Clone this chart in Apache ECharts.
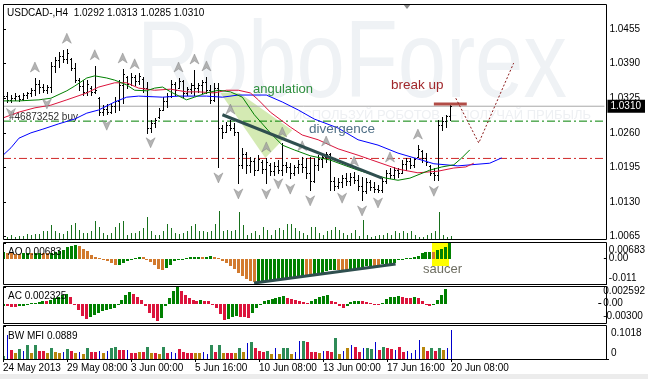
<!DOCTYPE html>
<html><head><meta charset="utf-8">
<script src="https://cdn.jsdelivr.net/npm/echarts@6/dist/echarts.min.js"></script>
<style>html,body{margin:0;padding:0;background:#fff;}#c{width:648px;height:379px;}</style>
</head><body><div id="c"></div>
<script>
// ---------- DATA ----------
const symbolTitle = 'USDCAD-,H4  1.0292 1.0313 1.0285 1.0310';
const timeTicks = [0, 16, 32, 48, 64, 80, 96, 112];
const timeLabels = ['24 May 2013', '29 May 08:00', '3 Jun 00:00', '5 Jun 16:00', '10 Jun 08:00', '13 Jun 00:00', '17 Jun 16:00', '20 Jun 08:00'];
const priceTicks = [1.0065, 1.0130, 1.0195, 1.0260, 1.0325, 1.0390, 1.0455];

const open = [1.0320,1.0330,1.0322,1.0326,1.0330,1.0324,1.0331,1.0334,1.0341,1.0352,1.0346,1.0341,1.0347,1.0385,1.0397,1.0405,1.0398,1.0398,1.0382,1.0360,1.0348,1.0336,1.0345,1.0336,1.0325,1.0300,1.0305,1.0300,1.0310,1.0320,1.0350,1.0365,1.0352,1.0365,1.0358,1.0362,1.0345,1.0270,1.0278,1.0290,1.0303,1.0320,1.0330,1.0352,1.0345,1.0358,1.0335,1.0342,1.0350,1.0345,1.0350,1.0355,1.0340,1.0322,1.0345,1.0270,1.0262,1.0275,1.0270,1.0262,1.0200,1.0220,1.0200,1.0208,1.0190,1.0205,1.0192,1.0200,1.0188,1.0198,1.0190,1.0200,1.0195,1.0185,1.0195,1.0202,1.0195,1.0185,1.0170,1.0200,1.0210,1.0215,1.0220,1.0170,1.0160,1.0168,1.0175,1.0170,1.0178,1.0172,1.0160,1.0150,1.0168,1.0158,1.0155,1.0152,1.0170,1.0185,1.0180,1.0190,1.0185,1.0202,1.0208,1.0200,1.0215,1.0225,1.0212,1.0198,1.0185,1.0180,1.0275,1.0282,1.0292];
const high = [1.0340,1.0337,1.0331,1.0335,1.0331,1.0335,1.0337,1.0344,1.0363,1.0359,1.0352,1.0350,1.0393,1.0402,1.0412,1.0416,1.0417,1.0400,1.0391,1.0363,1.0359,1.0359,1.0348,1.0386,1.0327,1.0312,1.0314,1.0316,1.0327,1.0359,1.0380,1.0367,1.0372,1.0369,1.0372,1.0365,1.0355,1.0284,1.0288,1.0306,1.0327,1.0335,1.0359,1.0355,1.0363,1.0359,1.0346,1.0354,1.0378,1.0354,1.0359,1.0365,1.0350,1.0354,1.0354,1.0275,1.0280,1.0284,1.0278,1.0262,1.0232,1.0224,1.0215,1.0213,1.0218,1.0209,1.0213,1.0203,1.0205,1.0209,1.0241,1.0205,1.0203,1.0200,1.0209,1.0215,1.0213,1.0215,1.0213,1.0218,1.0222,1.0224,1.0222,1.0177,1.0175,1.0181,1.0185,1.0185,1.0186,1.0181,1.0177,1.0175,1.0171,1.0168,1.0162,1.0175,1.0190,1.0194,1.0196,1.0194,1.0209,1.0213,1.0213,1.0213,1.0237,1.0228,1.0222,1.0200,1.0194,1.0284,1.0290,1.0294,1.0313];
const low = [1.0312,1.0318,1.0317,1.0322,1.0319,1.0322,1.0325,1.0329,1.0331,1.0335,1.0337,1.0335,1.0337,1.0374,1.0384,1.0393,1.0391,1.0378,1.0355,1.0340,1.0331,1.0331,1.0331,1.0335,1.0294,1.0294,1.0295,1.0297,1.0299,1.0303,1.0316,1.0344,1.0350,1.0350,1.0352,1.0337,1.0260,1.0262,1.0271,1.0288,1.0303,1.0309,1.0327,1.0331,1.0344,1.0327,1.0331,1.0335,1.0331,1.0337,1.0335,1.0335,1.0316,1.0320,1.0196,1.0250,1.0262,1.0265,1.0256,1.0166,1.0194,1.0185,1.0186,1.0181,1.0190,1.0185,1.0166,1.0181,1.0181,1.0185,1.0181,1.0186,1.0175,1.0181,1.0185,1.0186,1.0175,1.0153,1.0168,1.0190,1.0196,1.0205,1.0153,1.0153,1.0156,1.0158,1.0162,1.0162,1.0166,1.0153,1.0134,1.0148,1.0153,1.0149,1.0149,1.0149,1.0166,1.0175,1.0175,1.0177,1.0185,1.0190,1.0194,1.0196,1.0215,1.0205,1.0200,1.0181,1.0171,1.0171,1.0265,1.0271,1.0285];
const close = [1.0330,1.0322,1.0326,1.0330,1.0324,1.0331,1.0334,1.0341,1.0352,1.0346,1.0341,1.0347,1.0385,1.0397,1.0405,1.0398,1.0410,1.0382,1.0360,1.0348,1.0336,1.0352,1.0336,1.0340,1.0300,1.0305,1.0300,1.0310,1.0320,1.0350,1.0370,1.0352,1.0365,1.0358,1.0366,1.0345,1.0270,1.0278,1.0284,1.0302,1.0320,1.0330,1.0352,1.0340,1.0358,1.0335,1.0342,1.0350,1.0345,1.0350,1.0355,1.0340,1.0322,1.0345,1.0270,1.0262,1.0275,1.0270,1.0262,1.0200,1.0220,1.0200,1.0208,1.0190,1.0210,1.0192,1.0205,1.0188,1.0198,1.0190,1.0200,1.0195,1.0185,1.0195,1.0202,1.0195,1.0185,1.0170,1.0200,1.0210,1.0215,1.0220,1.0170,1.0160,1.0168,1.0175,1.0170,1.0178,1.0172,1.0160,1.0150,1.0168,1.0158,1.0155,1.0152,1.0170,1.0185,1.0180,1.0190,1.0185,1.0202,1.0208,1.0200,1.0210,1.0230,1.0212,1.0205,1.0185,1.0180,1.0275,1.0282,1.0292,1.0310];
const volume = [1100,200,400,200,300,300,500,400,500,500,800,800,1400,800,600,500,800,1400,1600,900,600,600,800,1800,1200,600,400,600,1200,1600,1800,400,600,600,800,1100,2200,800,400,400,800,1500,1100,600,500,600,800,1300,1500,800,800,700,800,1500,2800,800,900,800,900,2700,1400,400,600,800,400,1200,900,400,900,1100,900,1500,1500,1100,800,600,400,1200,1200,600,400,800,900,1200,900,600,400,600,900,300,1900,400,200,300,400,400,600,400,800,600,800,600,800,400,200,200,400,600,800,2700,400,200,300];

const fractalUp = [8, 16, 23, 30, 33, 44, 48, 51, 57, 66, 70, 75, 81, 88, 97, 104];
const fractalDown = [2, 11, 26, 37, 54, 59, 66, 69, 72, 77, 85, 90, 94, 108];

const jaw = [[0,1.0218],[2,1.0232],[4,1.0250],[7,1.0260],[10,1.0267],[14,1.0277],[18,1.0286],[21,1.0297],[24,1.0303],[28,1.0318],[31,1.0327],[34,1.0329],[40,1.0327],[44,1.0329],[51,1.0329],[55,1.0327],[59,1.0331],[66,1.0331],[70,1.0318],[74,1.0303],[78,1.0286],[84,1.0269],[89,1.0247],[94,1.0237],[99,1.0222],[104,1.0211],[108,1.0202],[114,1.0198],[122,1.0203],[125,1.0213]];
const teeth = [[0,1.0288],[4,1.0299],[8,1.0307],[12,1.0312],[16,1.0322],[21,1.0335],[24,1.0346],[28,1.0354],[31,1.0354],[34,1.0344],[38,1.0340],[42,1.0342],[46,1.0337],[49,1.0337],[53,1.0335],[56,1.0340],[59,1.0340],[62,1.0335],[64,1.0322],[67,1.0299],[72,1.0271],[75,1.0256],[79,1.0247],[84,1.0230],[89,1.0218],[94,1.0205],[99,1.0192],[104,1.0185],[109,1.0188],[113,1.0194],[116,1.0196],[118,1.0203]];
const lips = [[0,1.0320],[4,1.0320],[9,1.0322],[12,1.0325],[16,1.0339],[18,1.0348],[21,1.0363],[23,1.0367],[26,1.0363],[28,1.0359],[31,1.0350],[33,1.0340],[36,1.0339],[38,1.0344],[40,1.0346],[42,1.0337],[46,1.0322],[48,1.0327],[51,1.0335],[54,1.0340],[57,1.0337],[60,1.0327],[63,1.0294],[67,1.0260],[70,1.0237],[73,1.0228],[77,1.0217],[82,1.0209],[86,1.0198],[89,1.0190],[92,1.0183],[96,1.0175],[99,1.0171],[102,1.0175],[107,1.0190],[110,1.0196],[113,1.0200],[115,1.0213],[117,1.0228]];

const bidLevel = 1.0310;
const orderLevel = 1.0282;
const orderText = '#46873252 buy';
const redLevel = 1.0212;

const angulationPoly = [[54.5,1.0335],[59.25,1.0335],[72.5,1.0265],[65.75,1.0213]];
const divergenceLine = [[55,1.0294],[95,1.0175]];
const breakLine = [[108,1.0314],[116.25,1.0314]];
const forecastPath = [[113.5,1.0325],[119.25,1.0241],[128,1.0391]];

const ao = [0.0029,0.0025,0.0023,0.0022,0.0021,0.0023,0.0025,0.0024,0.0025,0.0026,0.0025,0.0023,0.0025,0.0027,0.0032,0.0039,0.0049,0.0057,0.0060,0.0054,0.0044,0.0032,0.0017,0.0006,0.0001,-0.0003,-0.0009,-0.0017,-0.0029,-0.0026,-0.0017,-0.0012,-0.0006,0.0003,0.0009,0.0006,-0.0003,-0.0015,-0.0029,-0.0044,-0.0049,-0.0041,-0.0026,-0.0012,-0.0006,-0.0002,0.0003,0.0006,0.0007,0.0009,0.0007,0.0009,0.0010,0.0007,0.0000,-0.0009,-0.0020,-0.0032,-0.0046,-0.0061,-0.0075,-0.0087,-0.0096,-0.0103,-0.0100,-0.0097,-0.0094,-0.0093,-0.0091,-0.0090,-0.0087,-0.0084,-0.0083,-0.0080,-0.0077,-0.0074,-0.0076,-0.0077,-0.0070,-0.0062,-0.0060,-0.0055,-0.0051,-0.0047,-0.0050,-0.0052,-0.0054,-0.0050,-0.0045,-0.0041,-0.0036,-0.0033,-0.0032,-0.0033,-0.0035,-0.0025,-0.0023,-0.0021,-0.0019,-0.0004,-0.0001,0.0002,0.0005,0.0009,0.0013,0.0024,0.0028,0.0030,0.0027,0.0036,0.0044,0.0053,0.00683];
const aoTicks = [0.00683, 0, -0.011];
const aoTickLabels = ['0.00683', '0.00', '-0.011'];
const aoTrend = [[63,-0.0106],[98.5,-0.0023]];
const saucerBox = [107.75, -0.0032, 111.9, 0.00683];

const ac = [-0.0003,-0.0004,-0.0005,-0.00057,-0.0004,-0.0003,-0.00015,0.0,0.0001,0.00026,0.00047,0.00036,0.00062,0.00088,0.00109,0.0013,0.0015,0.00098,-0.00016,-0.00093,-0.00197,-0.00233,-0.00212,-0.00181,-0.00145,-0.00109,-0.00093,-0.00078,-0.00067,-0.00016,0.00062,0.0014,0.00181,0.0015,0.00098,0.00062,-0.00041,-0.00145,-0.00223,-0.00275,-0.00223,-0.00041,0.00088,0.00192,0.00259,0.00192,0.0014,0.00088,0.00062,0.00047,0.00057,0.00047,0.00036,-0.00005,-0.00067,-0.0016,-0.00249,-0.00238,-0.00212,-0.00197,-0.00202,-0.00212,-0.00218,-0.00145,-0.00067,-0.00016,0.00036,0.00062,0.00078,0.00088,0.00104,0.00114,0.00088,0.00078,0.00062,0.00047,0.00026,0.0001,0.00047,0.00078,0.00104,0.00119,0.0013,0.00047,0.00026,-0.0003,-0.00067,-0.00041,0.00026,0.00036,0.00047,0.00041,0.00026,0.00005,-0.00005,-0.0001,0.0,0.00073,0.00098,0.00109,0.00114,0.00109,0.00088,0.00083,0.00098,0.00088,0.00047,-0.00005,-0.0003,-0.00016,0.00062,0.0013,0.002325];
const acTicks = [0.002592, 0, -0.003];
const acTickLabels = ['0.002592', '0.00', '-0.00300'];

const mfi = [0.010,0.074,0.028,0.018,0.031,0.025,0.042,0.018,0.042,0.026,0.026,0.020,0.034,0.023,0.018,0.023,0.031,0.026,0.018,0.023,0.015,0.034,0.023,0.023,0.025,0.018,0.025,0.034,0.038,0.028,0.028,0.028,0.018,0.018,0.023,0.023,0.036,0.018,0.018,0.015,0.038,0.018,0.023,0.020,0.031,0.023,0.018,0.018,0.018,0.018,0.023,0.015,0.042,0.023,0.042,0.018,0.018,0.018,0.018,0.034,0.023,0.048,0.051,0.033,0.025,0.023,0.025,0.015,0.033,0.015,0.033,0.033,0.015,0.023,0.054,0.054,0.051,0.023,0.023,0.018,0.025,0.025,0.023,0.064,0.015,0.025,0.033,0.044,0.038,0.023,0.033,0.035,0.030,0.051,0.028,0.038,0.033,0.030,0.028,0.038,0.023,0.025,0.020,0.028,0.059,0.038,0.025,0.033,0.025,0.033,0.028,0.033,0.0889];
const mfiType = ['G','B','R','Y','G','B','G','Y','G','R','R','Y','G','Y','Y','B','G','R','Y','B','Y','G','R','R','B','Y','B','G','G','R','R','B','R','R','Y','R','G','Y','R','Y','G','R','B','B','R','R','R','R','Y','Y','B','B','G','R','G','Y','R','R','Y','G','Y','B','G','R','R','R','G','Y','B','Y','G','G','Y','B','B','G','R','R','R','Y','B','R','R','G','Y','B','Y','B','R','R','B','G','G','B','R','G','R','R','B','R','R','B','B','B','B','Y','R','G','R','G','Y','B','B'];
const mfiTicks = [0.1018, 0];
const mfiTickLabels = ['0.1018', '0'];

const panelTitles = ['AO 0.00683', 'AC 0.002325', 'BW MFI 0.0889'];
const annotations = ['angulation', 'divergence', 'break up', 'saucer'];
const watermark = 'RoboForex';
const slogan = 'ИСПОЛЬЗУЙ РОБОТОВ — ПОЛУЧАЙ ПРИБЫЛЬ';

// ---------- CHART ----------
const FONT = '"Liberation Sans", Arial, sans-serif';
const chart = echarts.init(document.getElementById('c'), null, {renderer: 'canvas'});
const XMAX = 150.75;
const L = 3, W = 603;
const PMIN = 1.006071, PMAX = 1.050006;

const COL = {green:'#008000', orange:'#d27a2e', red:'#dc143c', mfiG:'#2e8b57', mfiR:'#dc143c', mfiY:'#b8860b', mfiB:'#0000cd'};

function histRender(colorOf, widthOf) {
  return function (params, api) {
    const i = api.value(0), v = api.value(1);
    const a = api.coord([i, 0]), b = api.coord([i, v]);
    const xc = Math.round(a[0]);
    const w = widthOf(params.dataIndex);
    const x0 = xc - Math.floor(w / 2);
    const y0 = Math.round(a[1]), y1 = Math.round(b[1]);
    let h = Math.abs(y1 - y0); if (h < 1) h = 1;
    const top = v >= 0 ? y0 - h : y0;
    return {type: 'rect', shape: {x: x0, y: top, width: w, height: h}, style: {fill: colorOf(params.dataIndex)}};
  };
}

function axisX(gi, showLabels) {
  return {
    type: 'value', gridIndex: gi, min: 0, max: XMAX,
    axisLine: {show: false}, splitLine: {show: false},
    axisTick: showLabels ? {show: true, customValues: timeTicks, length: 3, lineStyle: {color: '#000'}} : {show: false},
    axisLabel: showLabels ? {show: true, customValues: timeTicks, align: 'left', margin: 4,
      fontSize: 10, fontFamily: FONT, color: '#000',
      formatter: v => timeLabels[timeTicks.indexOf(Math.round(v))] || ''} : {show: false}
  };
}
// one axis per tick label (rich padding shifts the text off its tick, as MT4 does at panel edges)
function panelAxis(gi, min, max, value, text, pad) {
  return {
    type: 'value', gridIndex: gi, min: min, max: max, position: 'right',
    axisLine: {show: false}, splitLine: {show: false},
    axisTick: {show: true, customValues: [value], length: 3, lineStyle: {color: '#000'}},
    axisLabel: {show: true, customValues: [value], margin: 5, formatter: () => '{a|' + text + '}',
      rich: {a: {fontSize: 10, fontFamily: FONT, color: '#000', padding: pad}}}
  };
}
function hline(level, color, type) {
  return {type: 'line', xAxisIndex: 0, yAxisIndex: 0, z: 2, silent: true, showSymbol: false,
    data: [[0, level], [XMAX, level]], lineStyle: {color: color, width: 1, type: type}};
}

const option = {
  animation: false,
  backgroundColor: '#fff',
  textStyle: {fontFamily: FONT},
  grid: [
    {left: L, top: 5, width: W, height: 234, show: false},
    {left: L, top: 200, width: W, height: 39, show: false},
    {left: L, top: 243, width: W, height: 41, show: false},
    {left: L, top: 287, width: W, height: 36, show: false},
    {left: L, top: 326, width: W, height: 33, show: false}
  ],
  xAxis: [axisX(0, false), axisX(1, false), axisX(2, false), axisX(3, false), axisX(4, true)],
  yAxis: [
    {type: 'value', gridIndex: 0, min: PMIN, max: PMAX, position: 'right',
      axisLine: {show: false}, splitLine: {show: false},
      axisTick: {show: true, customValues: priceTicks, length: 3, lineStyle: {color: '#000'}},
      axisLabel: {show: true, customValues: priceTicks, margin: 5, fontSize: 10, fontFamily: FONT, color: '#000', formatter: v => v.toFixed(4)}},
    {type: 'value', gridIndex: 1, min: 0, max: 3900, show: false},
    panelAxis(2, -0.011, 0.00683, aoTicks[0], aoTickLabels[0], [14, 0, 0, 0]),
    panelAxis(3, -0.003, 0.002592, acTicks[0], acTickLabels[0], [8, 0, 0, 0]),
    panelAxis(4, 0, 0.1018, mfiTicks[0], mfiTickLabels[0], [14, 0, 0, 0]),
    {type: 'value', gridIndex: 0, min: PMIN, max: PMAX, position: 'right', z: 5,
      axisLine: {show: false}, splitLine: {show: false}, axisTick: {show: false},
      axisLabel: {show: true, customValues: [bidLevel], margin: 3, fontSize: 10, fontFamily: FONT, color: '#fff',
        backgroundColor: '#000', padding: [2, 4, 1, 3], lineHeight: 10, formatter: v => v.toFixed(4)}},
    panelAxis(2, -0.011, 0.00683, aoTicks[1], aoTickLabels[1], [0, 0, 0, 0]),
    panelAxis(2, -0.011, 0.00683, aoTicks[2], aoTickLabels[2], [0, 0, 12, 0]),
    panelAxis(3, -0.003, 0.002592, acTicks[1], acTickLabels[1], [0, 0, 0, 0]),
    panelAxis(3, -0.003, 0.002592, acTicks[2], acTickLabels[2], [0, 0, 14, 0]),
    panelAxis(4, 0, 0.1018, mfiTicks[1], mfiTickLabels[1], [0, 0, 12, 0])
  ],
  series: [
    // angulation polygon
    {type: 'custom', xAxisIndex: 0, yAxisIndex: 0, z: 1, silent: true, data: [[60, 1.03]],
      renderItem: (p, api) => ({type: 'polygon', shape: {points: angulationPoly.map(q => api.coord(q))},
        style: {fill: 'rgba(196,226,150,0.72)'}})},
    // horizontal levels
    hline(bidLevel, '#a8a8a8', 'solid'),
    hline(orderLevel, '#008000', [8, 3, 2, 3]),
    hline(redLevel, '#d02828', [8, 3, 2, 3]),
    // volume
    {type: 'custom', xAxisIndex: 1, yAxisIndex: 1, z: 2, silent: true, clip: true,
      data: volume.map((v, i) => [i, v]), renderItem: histRender(() => '#17701c', () => 1)},
    // OHLC bars
    {type: 'custom', xAxisIndex: 0, yAxisIndex: 0, z: 3, silent: true, clip: true,
      data: close.map((c, i) => [i, open[i], high[i], low[i], c]),
      encode: {x: 0, y: [1, 2, 3, 4]},
      renderItem: (params, api) => {
        const i = api.value(0);
        const o = api.coord([i, api.value(1)]), h = api.coord([i, api.value(2)]),
              l = api.coord([i, api.value(3)]), c = api.coord([i, api.value(4)]);
        const n = Math.round(h[0]);
        const st = {stroke: '#000', lineWidth: 1};
        const yo = Math.round(o[1]) + 0.5, yc = Math.round(c[1]) + 0.5;
        return {type: 'group', children: [
          {type: 'line', shape: {x1: n + 0.5, y1: Math.round(h[1]), x2: n + 0.5, y2: Math.round(l[1]) + 1}, style: st},
          {type: 'line', shape: {x1: n - 1, y1: yo, x2: n + 1, y2: yo}, style: st},
          {type: 'line', shape: {x1: n, y1: yc, x2: n + 2, y2: yc}, style: st}
        ]};
      }},
    // Alligator
    {type: 'line', xAxisIndex: 0, yAxisIndex: 0, z: 4, data: jaw, showSymbol: false, silent: true, lineStyle: {color: '#0000ff', width: 1}},
    {type: 'line', xAxisIndex: 0, yAxisIndex: 0, z: 4, data: teeth, showSymbol: false, silent: true, lineStyle: {color: '#dc143c', width: 1}},
    {type: 'line', xAxisIndex: 0, yAxisIndex: 0, z: 4, data: lips, showSymbol: false, silent: true, lineStyle: {color: '#008000', width: 1}},
    // fractals
    {type: 'scatter', xAxisIndex: 0, yAxisIndex: 0, z: 5, silent: true,
      data: fractalUp.map(i => [i, high[i]]), symbol: 'path://M5,0 L10,10 L5,7 L0,10 Z', symbolSize: [9, 10], symbolOffset: [0, -11],
      itemStyle: {color: '#a0a0a0', borderColor: '#7a7a7a', borderWidth: 0.5}},
    {type: 'scatter', xAxisIndex: 0, yAxisIndex: 0, z: 5, silent: true,
      data: fractalDown.map(i => [i, low[i]]), symbol: 'path://M0,0 L5,3 L10,0 L5,10 Z', symbolSize: [9, 10], symbolOffset: [0, 11],
      itemStyle: {color: '#a0a0a0', borderColor: '#7a7a7a', borderWidth: 0.5}},
    // divergence trend line
    {type: 'line', xAxisIndex: 0, yAxisIndex: 0, z: 6, data: divergenceLine, showSymbol: false, silent: true, lineStyle: {color: '#2f4f4f', width: 3}},
    // break up line
    {type: 'line', xAxisIndex: 0, yAxisIndex: 0, z: 6, data: breakLine, showSymbol: false, silent: true, lineStyle: {color: '#b24c46', width: 3}},
    // forecast dotted path
    {type: 'line', xAxisIndex: 0, yAxisIndex: 0, z: 6, data: forecastPath, showSymbol: false, silent: true, lineStyle: {color: '#8b1a1a', width: 1, type: [2, 2]}},
    // saucer highlight
    {type: 'custom', xAxisIndex: 2, yAxisIndex: 2, z: 1, silent: true, data: [saucerBox],
      renderItem: (p, api) => { const a = api.coord([api.value(0), api.value(3)]), b = api.coord([api.value(2), api.value(1)]);
        return {type: 'rect', shape: {x: Math.round(a[0]), y: Math.round(a[1]), width: Math.round(b[0] - a[0]), height: Math.round(b[1] - a[1])}, style: {fill: '#ffff00'}}; }},
    // AO
    {type: 'custom', xAxisIndex: 2, yAxisIndex: 2, z: 3, silent: true, clip: true,
      data: ao.map((v, i) => [i, v]),
      renderItem: histRender(k => (k === 0 || ao[k] > ao[k - 1]) ? COL.green : COL.orange, () => 3)},
    {type: 'line', xAxisIndex: 2, yAxisIndex: 2, z: 5, data: aoTrend, showSymbol: false, silent: true, lineStyle: {color: '#2f4f4f', width: 3}},
    // AC
    {type: 'custom', xAxisIndex: 3, yAxisIndex: 3, z: 3, silent: true, clip: true,
      data: ac.map((v, i) => [i, v]),
      renderItem: histRender(k => (k === 0 || ac[k] > ac[k - 1]) ? COL.green : COL.red, () => 3)},
    // MFI
    {type: 'custom', xAxisIndex: 4, yAxisIndex: 4, z: 3, silent: true, clip: true,
      data: mfi.map((v, i) => [i, v]),
      renderItem: histRender(k => COL['mfi' + mfiType[k]], k => mfiType[k] === 'B' ? 1 : 3)}
  ],
  graphic: {elements: [
    {type: 'text', x: 137, y: 67, z: -5, scaleX: 0.79, silent: true,
      style: {text: watermark, fontSize: 110, fontFamily: FONT, fill: '#eff2f5', verticalAlign: 'middle'}},
    {type: 'text', x: 293, y: 115, z: -5, silent: true,
      style: {text: slogan, fontSize: 13, fontFamily: FONT, fill: '#eef0f3', verticalAlign: 'middle'}},
    {type: 'polygon', z: 50, silent: true, shape: {points: [[403, 4], [411, 4], [407, 9]]}, style: {fill: '#8a8a8a'}},
    {type: 'text', x: 7, y: 13, z: 50, style: {text: symbolTitle, fontSize: 10, fontFamily: FONT, fill: '#000', verticalAlign: 'middle'}},
    {type: 'text', x: 9, y: 117, z: 1, style: {text: orderText, fontSize: 10, fontFamily: FONT, fill: '#303030', verticalAlign: 'middle'}},
    {type: 'text', x: 253, y: 89, z: 50, style: {text: annotations[0], fontSize: 13, fontFamily: FONT, fill: '#2f8f3f', verticalAlign: 'middle'}},
    {type: 'text', x: 309, y: 129, z: 50, style: {text: annotations[1], fontSize: 13.5, fontFamily: FONT, fill: '#4f6f86', verticalAlign: 'middle'}},
    {type: 'text', x: 391, y: 85, z: 50, style: {text: annotations[2], fontSize: 13.5, fontFamily: FONT, fill: '#a0262a', verticalAlign: 'middle'}},
    {type: 'text', x: 423, y: 269, z: 50, style: {text: annotations[3], fontSize: 13, fontFamily: FONT, fill: '#6e6e62', verticalAlign: 'middle'}},
    {type: 'text', x: 8, y: 252, z: 50, style: {text: panelTitles[0], fontSize: 10, fontFamily: FONT, fill: '#000', verticalAlign: 'middle'}},
    {type: 'text', x: 8, y: 296, z: 50, style: {text: panelTitles[1], fontSize: 10, fontFamily: FONT, fill: '#000', verticalAlign: 'middle'}},
    {type: 'text', x: 8, y: 336, z: 50, style: {text: panelTitles[2], fontSize: 10, fontFamily: FONT, fill: '#000', verticalAlign: 'middle'}},
    {type: 'rect', z: 100, silent: true, shape: {x: 3.5, y: 4.5, width: 603, height: 235}, style: {fill: 'none', stroke: '#000', lineWidth: 1}},
    {type: 'rect', z: 100, silent: true, shape: {x: 3.5, y: 242.5, width: 603, height: 42}, style: {fill: 'none', stroke: '#000', lineWidth: 1}},
    {type: 'rect', z: 100, silent: true, shape: {x: 3.5, y: 286.5, width: 603, height: 37}, style: {fill: 'none', stroke: '#000', lineWidth: 1}},
    {type: 'rect', z: 100, silent: true, shape: {x: 3.5, y: 325.5, width: 603, height: 34}, style: {fill: 'none', stroke: '#000', lineWidth: 1}},
    {type: 'rect', z: 100, silent: true, shape: {x: 0, y: 374, width: 648, height: 5}, style: {fill: '#ececec'}}
  ]}
};
chart.setOption(option);
</script>
</body></html>
